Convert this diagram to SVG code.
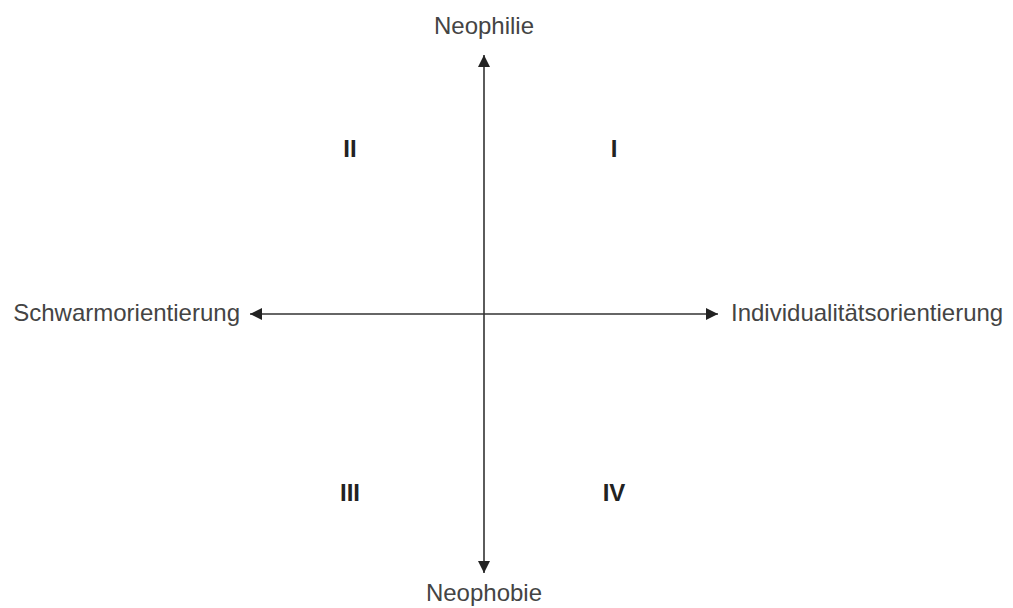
<svg xmlns="http://www.w3.org/2000/svg" width="1013" height="608" viewBox="0 0 1013 608">
<style>
.lbl{font-family:"Liberation Sans",Arial,sans-serif;font-size:24px;fill:#444}
.num{font-family:"Liberation Sans",Arial,sans-serif;font-size:24px;font-weight:bold;fill:#222;text-anchor:middle}
.ax{stroke:#333;stroke-width:1.6;fill:none}
</style>
<defs>
<marker id="ah" viewBox="0 0 10 10" refX="10" refY="5" markerWidth="14" markerHeight="12" markerUnits="userSpaceOnUse" orient="auto">
<path d="M0,0 L10,5 L0,10 z" fill="#222"/>
</marker>
</defs>
<rect width="1013" height="608" fill="#fff"/>
<g id="connectors">
<line class="ax" x1="484" y1="314" x2="484" y2="55" marker-end="url(#ah)"/>
<line class="ax" x1="484" y1="314" x2="484" y2="573" marker-end="url(#ah)"/>
<line class="ax" x1="484" y1="314" x2="250" y2="314" marker-end="url(#ah)"/>
<line class="ax" x1="484" y1="314" x2="718" y2="314" marker-end="url(#ah)"/>
</g>
<g id="neophilie"><text class="lbl" x="484" y="34" text-anchor="middle">Neophilie</text></g>
<g id="neophobie"><text class="lbl" x="484" y="601" text-anchor="middle">Neophobie</text></g>
<g id="schwarm"><text class="lbl" x="240" y="321" text-anchor="end">Schwarmorientierung</text></g>
<g id="individ"><text class="lbl" x="731" y="321">Individualitätsorientierung</text></g>
<g id="q2"><text class="num" x="350" y="157">II</text></g>
<g id="q1"><text class="num" x="614" y="157">I</text></g>
<g id="q3"><text class="num" x="350" y="501">III</text></g>
<g id="q4"><text class="num" x="614" y="501">IV</text></g>
</svg>
